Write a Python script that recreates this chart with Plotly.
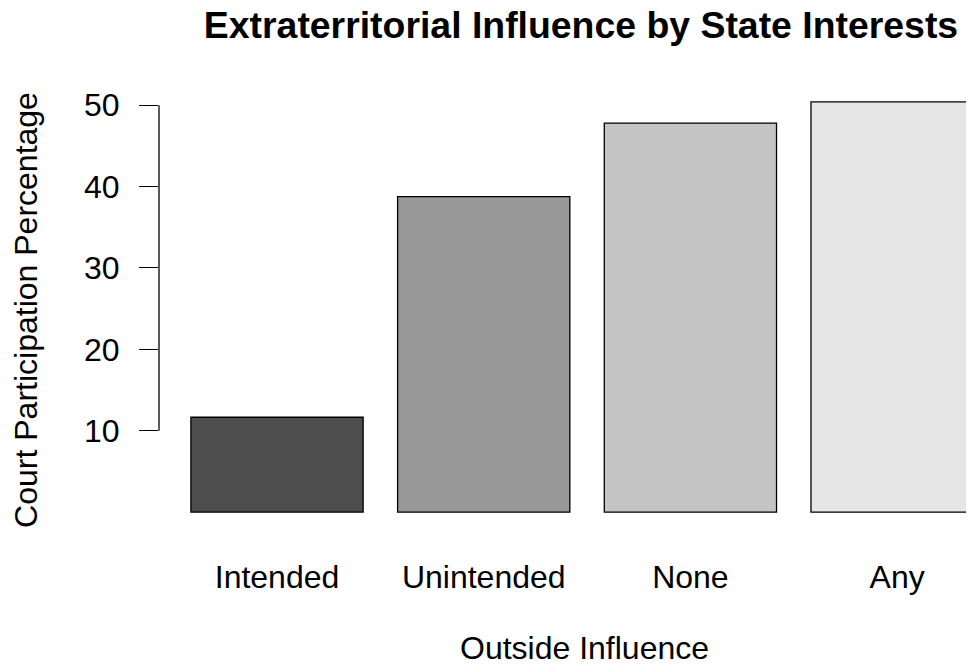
import plotly.graph_objects as go

categories = ["Intended", "Unintended", "None", "Any"]
values = [11.65, 38.75, 47.8, 50.4]
colors = ["#4D4D4D", "#989898", "#C4C4C4", "#E6E6E6"]
y_ticks = [10, 20, 30, 40, 50]

FONT = "Liberation Sans, Arial, Helvetica, sans-serif"
FS = 32

# page body has an 8px margin, so the figure is 8px smaller than the window
W, H = 966, 658
L, T = 151, 82
PH = 440
B = H - T - PH
PW = W - L

fig = go.Figure(
    go.Bar(
        x=categories,
        y=values,
        marker=dict(color=colors, line=dict(color="black", width=1.3)),
        hoverinfo="x+y",
    )
)

fig.update_layout(
    width=W,
    height=H,
    margin=dict(l=L, r=0, t=T, b=B, pad=0),
    paper_bgcolor="white",
    plot_bgcolor="white",
    bargap=0.1667,
    showlegend=False,
    font=dict(family=FONT, size=FS, color="black"),
    title=dict(
        text="Extraterritorial Influence by State Interests",
        font=dict(family=FONT, size=37.4, color="black", weight=700),
        x=(573 - L) / PW, xref="paper", xanchor="center",
        y=1 - 17 / H, yref="container", yanchor="middle",
    ),
)

fig.update_xaxes(
    type="category",
    range=[-0.571, 3.372],
    showline=False, showgrid=False, zeroline=False,
    ticks="",
    tickfont=dict(family=FONT, size=FS, color="black"),
    ticklabelstandoff=25,
)

fig.update_yaxes(
    range=[-2.2, 51.86],
    tickmode="array",
    tickvals=y_ticks,
    ticktext=[str(v) for v in y_ticks],
    ticks="outside", ticklen=19, tickwidth=1.3, tickcolor="black",
    showline=False, showgrid=False, zeroline=False,
    tickfont=dict(family=FONT, size=FS, color="black"),
    ticklabelstandoff=13,
    title=dict(text="Court Participation Percentage",
               font=dict(family=FONT, size=FS, color="black"), standoff=40),
)

# y-axis line spanning only the tick range (as in R's axis())
fig.add_shape(type="line", xref="paper", yref="y",
              x0=0, x1=0, y0=min(y_ticks), y1=max(y_ticks),
              line=dict(color="black", width=1.3))

fig.add_annotation(
    text="Outside Influence", xref="paper", yref="paper",
    x=(576 - L) / PW, y=-(639.5 - (T + PH)) / PH,
    xanchor="center", yanchor="middle", showarrow=False,
    font=dict(family=FONT, size=FS, color="black"),
)

fig.write_html("out.html")
